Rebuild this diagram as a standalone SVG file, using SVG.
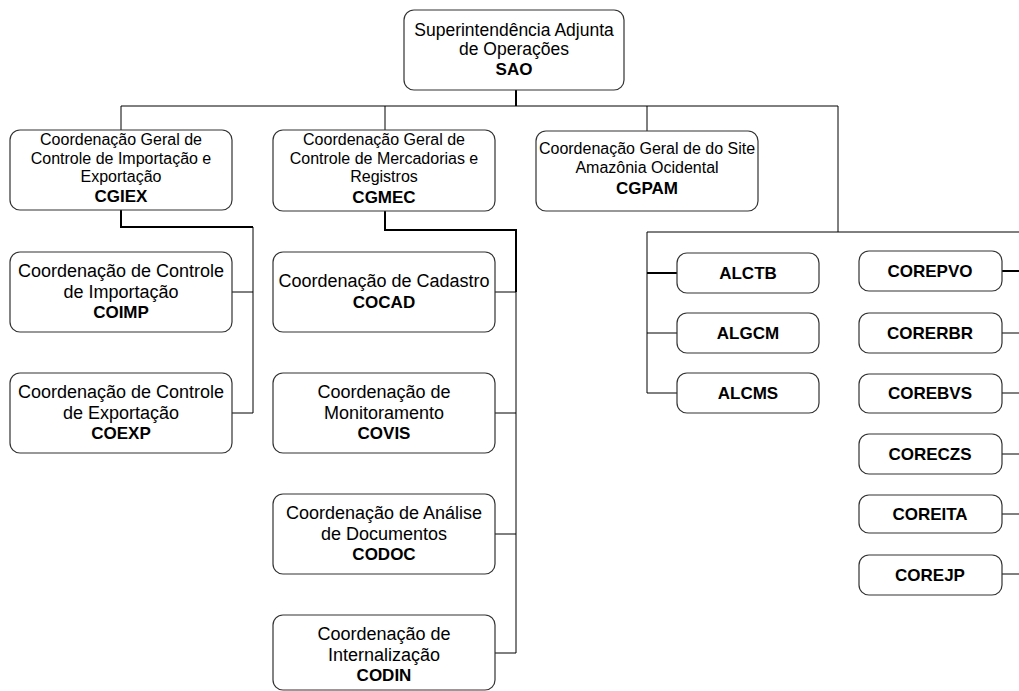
<svg xmlns="http://www.w3.org/2000/svg" width="1019" height="691" viewBox="0 0 1019 691">
  <style>
    .box { fill: #ffffff; stroke: #333333; stroke-width: 1.2; }
    .t { font-family: "Liberation Sans", Arial, sans-serif; fill: #000000; text-anchor: middle; }
    .lg { font-size: 17.5px; }
    .md { font-size: 16px; }
    .co { font-size: 18px; }
    .b { font-weight: bold; font-size: 17px; }
    .lk { fill: none; stroke: #000000; stroke-width: 1; }
    .lk2 { fill: none; stroke: #000000; stroke-width: 2; }
  </style>
  <rect width="1019" height="691" fill="#ffffff"/>

  <!-- connectors -->
  <g id="connectors">
    <line class="lk2" x1="516" y1="90" x2="516" y2="106"/>
    <polyline class="lk" points="121,130 121,106 838,106 838,232"/>
    <line class="lk" x1="385" y1="106" x2="385" y2="130"/>
    <line class="lk" x1="647" y1="106" x2="647" y2="131"/>
    <!-- CGIEX children -->
    <polyline class="lk2" points="121,210 121,227 253,227"/>
    <polyline class="lk" points="253,227 253,413 232,413"/>
    <line class="lk" x1="232" y1="292" x2="253" y2="292"/>
    <!-- CGMEC children -->
    <polyline class="lk2" points="385,211 385,230 516,230 516,292"/>
    <polyline class="lk" points="516,292 516,653 495,653"/>
    <line class="lk" x1="495" y1="292" x2="516" y2="292"/>
    <line class="lk" x1="495" y1="413" x2="516" y2="413"/>
    <line class="lk" x1="495" y1="534" x2="516" y2="534"/>
    <!-- regional units -->
    <polyline class="lk" points="1019,232 647,232 647,393 677,393"/>
    <line class="lk2" x1="647" y1="273" x2="677" y2="273"/>
    <line class="lk" x1="647" y1="333" x2="677" y2="333"/>
    <line class="lk2" x1="1002" y1="271" x2="1019" y2="271"/>
    <line class="lk" x1="1002" y1="333" x2="1019" y2="333"/>
    <line class="lk" x1="1002" y1="393" x2="1019" y2="393"/>
    <line class="lk" x1="1002" y1="454" x2="1019" y2="454"/>
    <line class="lk" x1="1002" y1="514" x2="1019" y2="514"/>
    <line class="lk" x1="1002" y1="574" x2="1019" y2="574"/>
  </g>

  <g id="SAO">
    <rect class="box" x="404" y="10" width="220" height="80" rx="10"/>
    <text class="t lg" x="514" y="36">Superintendência Adjunta</text>
    <text class="t lg" x="514" y="55">de Operações</text>
    <text class="t b" x="514" y="75">SAO</text>
  </g>

  <g id="CGIEX">
    <rect class="box" x="10" y="130" width="222" height="80" rx="10"/>
    <text class="t md" x="121" y="145">Coordenação Geral de</text>
    <text class="t md" x="121" y="164">Controle de Importação e</text>
    <text class="t md" x="121" y="182">Exportação</text>
    <text class="t b" x="121" y="202">CGIEX</text>
  </g>

  <g id="CGMEC">
    <rect class="box" x="273" y="130" width="222" height="81" rx="10"/>
    <text class="t md" x="384" y="145">Coordenação Geral de</text>
    <text class="t md" x="384" y="164">Controle de Mercadorias e</text>
    <text class="t md" x="384" y="182">Registros</text>
    <text class="t b" x="384" y="203">CGMEC</text>
  </g>

  <g id="CGPAM">
    <rect class="box" x="536" y="131" width="222" height="80" rx="10"/>
    <text class="t md" x="647" y="154">Coordenação Geral de do Site</text>
    <text class="t md" x="647" y="173">Amazônia Ocidental</text>
    <text class="t b" x="647" y="194">CGPAM</text>
  </g>

  <g id="COIMP">
    <rect class="box" x="10" y="252" width="222" height="80" rx="10"/>
    <text class="t co" x="121" y="277">Coordenação de Controle</text>
    <text class="t co" x="121" y="298">de Importação</text>
    <text class="t b" x="121" y="318">COIMP</text>
  </g>

  <g id="COEXP">
    <rect class="box" x="10" y="373" width="222" height="80" rx="10"/>
    <text class="t co" x="121" y="398">Coordenação de Controle</text>
    <text class="t co" x="121" y="419">de Exportação</text>
    <text class="t b" x="121" y="439">COEXP</text>
  </g>

  <g id="COCAD">
    <rect class="box" x="273" y="252" width="222" height="80" rx="10"/>
    <text class="t co" x="384" y="287">Coordenação de Cadastro</text>
    <text class="t b" x="384" y="308">COCAD</text>
  </g>

  <g id="COVIS">
    <rect class="box" x="273" y="373" width="222" height="80" rx="10"/>
    <text class="t co" x="384" y="398">Coordenação de</text>
    <text class="t co" x="384" y="419">Monitoramento</text>
    <text class="t b" x="384" y="439">COVIS</text>
  </g>

  <g id="CODOC">
    <rect class="box" x="273" y="494" width="222" height="80" rx="10"/>
    <text class="t co" x="384" y="519">Coordenação de Análise</text>
    <text class="t co" x="384" y="540">de Documentos</text>
    <text class="t b" x="384" y="560">CODOC</text>
  </g>

  <g id="CODIN">
    <rect class="box" x="273" y="615" width="222" height="75" rx="10"/>
    <text class="t co" x="384" y="640">Coordenação de</text>
    <text class="t co" x="384" y="661">Internalização</text>
    <text class="t b" x="384" y="681">CODIN</text>
  </g>

  <g id="ALCTB">
    <rect class="box" x="677" y="253" width="142" height="40" rx="10"/>
    <text class="t b" x="748" y="279">ALCTB</text>
  </g>
  <g id="ALGCM">
    <rect class="box" x="677" y="313" width="142" height="40" rx="10"/>
    <text class="t b" x="748" y="339">ALGCM</text>
  </g>
  <g id="ALCMS">
    <rect class="box" x="677" y="373" width="142" height="40" rx="10"/>
    <text class="t b" x="748" y="399">ALCMS</text>
  </g>

  <g id="COREPVO">
    <rect class="box" x="859" y="251" width="143" height="40" rx="10"/>
    <text class="t b" x="930" y="277">COREPVO</text>
  </g>
  <g id="CORERBR">
    <rect class="box" x="859" y="313" width="143" height="40" rx="10"/>
    <text class="t b" x="930" y="339">CORERBR</text>
  </g>
  <g id="COREBVS">
    <rect class="box" x="859" y="374" width="143" height="39" rx="10"/>
    <text class="t b" x="930" y="399">COREBVS</text>
  </g>
  <g id="CORECZS">
    <rect class="box" x="859" y="434" width="143" height="40" rx="10"/>
    <text class="t b" x="930" y="460">CORECZS</text>
  </g>
  <g id="COREITA">
    <rect class="box" x="859" y="495" width="143" height="38" rx="10"/>
    <text class="t b" x="930" y="520">COREITA</text>
  </g>
  <g id="COREJP">
    <rect class="box" x="859" y="555" width="143" height="40" rx="10"/>
    <text class="t b" x="930" y="581">COREJP</text>
  </g>
</svg>
